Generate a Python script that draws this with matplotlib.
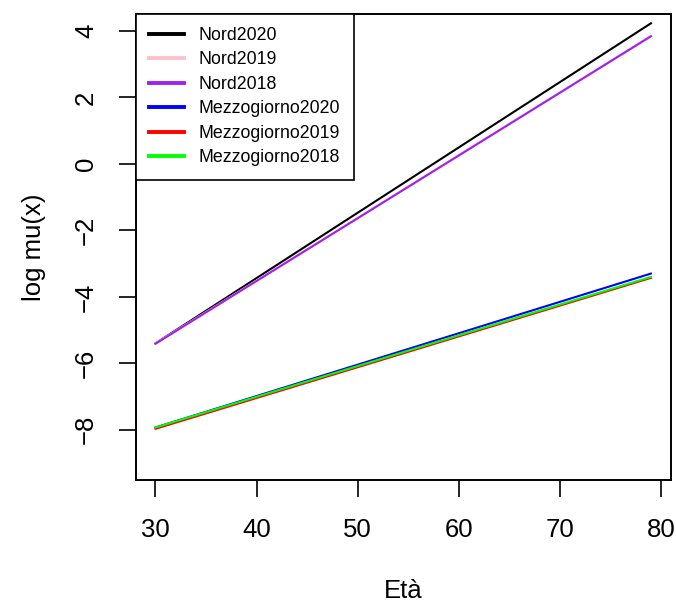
import numpy as np
import matplotlib.pyplot as plt

plt.rcParams['font.family'] = ['Liberation Sans', 'DejaVu Sans']

# eta' di inizio e fine delle rette
ages = [30, 79]

# log mu(x) ai due estremi
nord2020 = [-5.40, 4.23]
nord2019 = [-5.40, 3.85]
nord2018 = [-5.41, 3.84]
mezz2020 = [-7.93, -3.30]
mezz2019 = [-7.97, -3.43]
mezz2018 = [-7.93, -3.40]

labels = ['Nord2020', 'Nord2019', 'Nord2018',
          'Mezzogiorno2020', 'Mezzogiorno2019', 'Mezzogiorno2018']
colors = ['black', 'pink', '#A020F0', 'blue', 'red', 'lime']

series = [nord2020, nord2019, nord2018, mezz2020, mezz2019, mezz2018]

fig = plt.figure(figsize=(6.76, 6.05), dpi=100)
ax = fig.add_axes([0.2007, 0.2061, 0.7915, 0.7713])

for s, c in zip(series, colors):
    ax.plot(ages, s, color=c, lw=1.5)

# limiti come in R (4% di margine)
ax.set_xlim(30 - 0.04 * 49, 79 + 0.04 * 49)
ax.set_ylim(-9 - 0.04 * 13, 4 + 0.04 * 13)
ax.set_xticks([30, 40, 50, 60, 70, 80])
ax.set_yticks([-8, -6, -4, -2, 0, 2, 4])
ax.set_yticklabels(['\u22128', '\u22126', '\u22124', '\u22122', '0', '2', '4'],
                   rotation=90, va='center')
ax.tick_params(direction='out', length=12, width=1.2, labelsize=18.5, pad=15)
for sp in ax.spines.values():
    sp.set_linewidth(1.4)

ax.set_xlabel('Età', fontsize=18.5, labelpad=27)
ax.set_ylabel('log mu(x)', fontsize=18.5, labelpad=20)

handles = [plt.Line2D([], [], color=c, lw=2.8) for c in colors]
leg = ax.legend(handles, labels, loc='upper left', bbox_to_anchor=(0, 1),
                borderaxespad=0, fancybox=False, edgecolor='black',
                framealpha=1, fontsize=12.8, handlelength=1.95,
                handletextpad=0.85, labelspacing=0.42, borderpad=0.75)
leg.get_frame().set_linewidth(1.2)

fig.savefig('out.png', dpi=100)
